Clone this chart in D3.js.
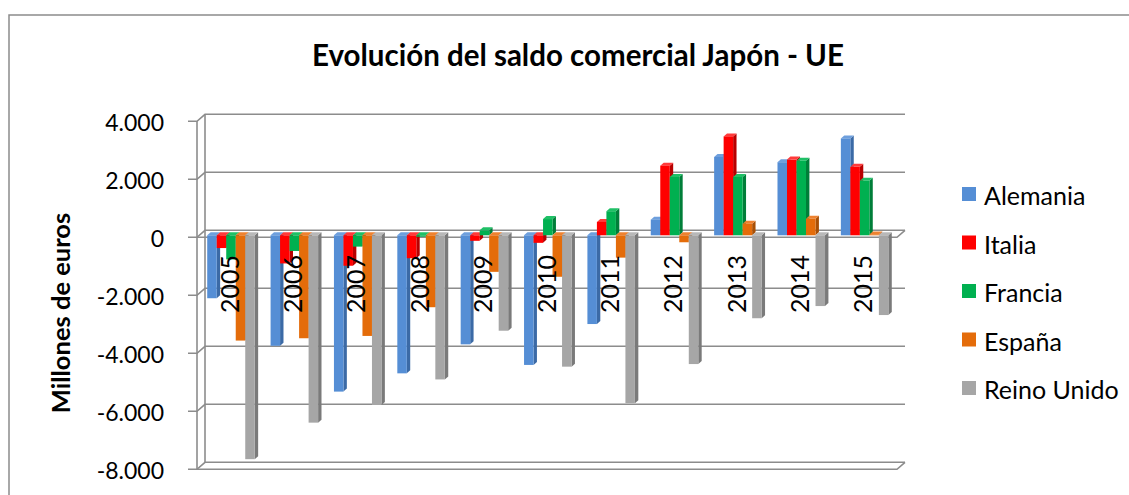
<!DOCTYPE html>
<html><head><meta charset="utf-8">
<script src="https://cdn.jsdelivr.net/npm/d3@7"></script>
<style>body{margin:0;background:#fff}svg{display:block}text{font-family:Lato,"Open Sans",sans-serif;fill:#000}</style>
</head><body><svg id="c" width="1129" height="495"></svg>
<script>
const years = ["2005","2006","2007","2008","2009","2010","2011","2012","2013","2014","2015"];
const seriesNames = ["Alemania","Italia","Francia","España","Reino Unido"];
const alemania  = [-2170,-3810,-5390,-4760,-3760,-4470,-3060, 540,2700,2520,3340];
const italia    = [ -440, -970,-1050, -790, -190, -260,  460,2400,3410,2610,2360];
const francia   = [ -830, -540, -390,  -50,  170,  560,  830,2010,2010,2570,1880];
const espana    = [-3630,-3550,-3470,-2480,-1260,-1430, -770,-240, 400, 570,  30];
const reinoUnido= [-7720,-6460,-5850,-4970,-3290,-4530,-5790,-4440,-2860,-2440,-2750];
const yTicks = [4000,2000,0,-2000,-4000,-6000,-8000];
const title = "Evolución del saldo comercial Japón - UE";
const yTitle = "Millones de euros";

const seriesValues = [alemania, italia, francia, espana, reinoUnido];
const frontColors = ["#558ED5","#FF0000","#00B050","#E46C0A","#A6A6A6"];
const sideColors  = ["#3B6AA6","#B80000","#007E39","#A84F06","#7A7A7A"];
const topColors   = ["#6E9FDD","#FF3A3A","#1FC066","#EE8230","#B8B8B8"];

const svg = d3.select("#c");
const fmt = d3.formatLocale({decimal:",",thousands:".",grouping:[3],currency:["","€"],minus:"-"}).format(",d");

const gridColor = "#8C8C8C";
// chart border
svg.append("path").attr("d","M9,500 L9,15 L1135,15").attr("fill","none").attr("stroke",gridColor).attr("stroke-width",1.5);

// scales
const y = d3.scaleLinear().domain([-8000,4000]).range([469.3,121.3]);
const x0 = d3.scaleBand().domain(years).range([197,894]).paddingInner(0.25).paddingOuter(0.125);
const x1 = d3.scaleBand().domain(seriesNames).range([0,x0.bandwidth()]);
const DX = 8, DY = 7;          // wall depth offset
const bdx = 3.4, bdy = 3;      // bar depth
const ox = (DX-bdx)/2, oy = (DY-bdy)/2; // bar front plane offset

const xL = 197, xR = 897;
const g = svg.append("g").attr("fill","none").attr("stroke",gridColor).attr("stroke-width",1.6);
yTicks.forEach(t=>{
  const yy = y(t);
  g.append("path").attr("d",`M188,${yy} L${xL},${yy} L${xL+DX},${yy-DY} L${xR+DX},${yy-DY}`);
});
g.append("line").attr("x1",xL).attr("x2",xL).attr("y1",y(4000)).attr("y2",y(-8000));
g.append("line").attr("x1",xL+DX).attr("x2",xL+DX).attr("y1",y(4000)-DY).attr("y2",y(-8000)-DY);
g.append("path").attr("d",`M${xL},${y(-8000)} L${xR},${y(-8000)} L${xR+DX},${y(-8000)-DY}`);
g.append("path").attr("d",`M${xL},${y(0)} L${xR},${y(0)} L${xR+DX},${y(0)-DY}`);

// bars
const bars = svg.append("g");
years.forEach((yr,i)=>{
  seriesNames.forEach((s,j)=>{
    const v = seriesValues[j][i];
    const xa = x0(yr)+x1(s)+ox, w = x1.bandwidth();
    const yt = Math.min(y(v),y(0))-oy, yb = Math.max(y(v),y(0))-oy;
    const gg = bars.append("g");
    gg.append("polygon").attr("points",[[xa+w,yt],[xa+w+bdx,yt-bdy],[xa+w+bdx,yb-bdy],[xa+w,yb]].join(" ")).attr("fill",sideColors[j]);
    gg.append("polygon").attr("points",[[xa,yt],[xa+bdx,yt-bdy],[xa+w+bdx,yt-bdy],[xa+w,yt]].join(" ")).attr("fill",topColors[j]);
    gg.append("rect").attr("x",xa).attr("y",yt).attr("width",w).attr("height",Math.max(0.5,yb-yt)).attr("fill",frontColors[j]);
  });
});

// year labels
years.forEach(yr=>{
  const cx = x0(yr)+x0.bandwidth()/2;
  svg.append("text").attr("transform",`translate(${cx},255) rotate(-90)`)
    .attr("text-anchor","end").attr("dominant-baseline","central")
    .style("font-size","25px").text(yr);
});

// y tick labels
yTicks.forEach(t=>{
  svg.append("text").attr("x",164).attr("y",y(t)+1).attr("text-anchor","end").attr("dominant-baseline","central")
    .style("font-size","23px").text(fmt(t));
});

// y title
svg.append("text").attr("transform","translate(60,313) rotate(-90)").attr("text-anchor","middle")
  .attr("dominant-baseline","central").style("font-size","25.5px").style("font-weight","bold").text(yTitle);

// title
svg.append("text").attr("x",578).attr("y",66).attr("text-anchor","middle")
  .style("font-size","29.5px").style("font-weight","bold").text(title);

// legend
seriesNames.forEach((s,j)=>{
  const cy = 194 + j*48.5;
  svg.append("rect").attr("x",962).attr("y",cy-7).attr("width",14).attr("height",14).attr("fill",frontColors[j]);
  svg.append("text").attr("x",984).attr("y",cy+1).attr("dominant-baseline","central").style("font-size","25px").text(s);
});
</script></body></html>
